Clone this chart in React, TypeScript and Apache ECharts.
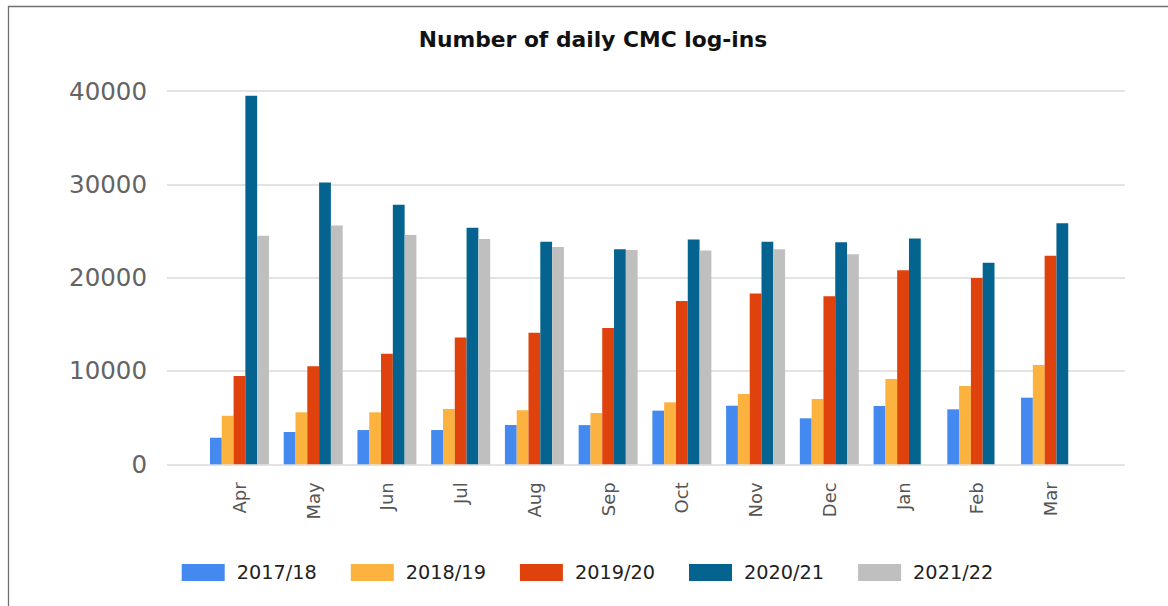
import React, { useEffect, useRef } from "react";
import * as echarts from "echarts";

const months = ["Apr", "May", "Jun", "Jul", "Aug", "Sep", "Oct", "Nov", "Dec", "Jan", "Feb", "Mar"];
const seriesNames = ["2017/18", "2018/19", "2019/20", "2020/21", "2021/22"];
const s1718 = [2850, 3460, 3670, 3670, 4200, 4200, 5750, 6280, 4930, 6250, 5890, 7140];
const s1819 = [5200, 5570, 5570, 5930, 5790, 5500, 6640, 7530, 7000, 9140, 8390, 10640];
const s1920 = [9460, 10500, 11850, 13600, 14100, 14600, 17500, 18300, 18000, 20800, 19960, 22350];
const s2021 = [39500, 30200, 27800, 25350, 23850, 23040, 24100, 23850, 23790, 24200, 21600, 25820];
const s2122 = [24500, 25600, 24570, 24140, 23280, 22960, 22900, 23040, 22500, null, null, null];
const colors = ["#4389f0", "#fbb23f", "#df420c", "#05648f", "#bfbfbf"];

const FONT = "DejaVu Sans";

export default function App() {
  const ref = useRef<HTMLDivElement>(null);
  useEffect(() => {
    if (!ref.current) return;
    const chart = echarts.init(ref.current, null, { renderer: "svg" });
    const data = [s1718, s1819, s1920, s2021, s2122];
    const option: any = {
      animation: false,
      backgroundColor: "#ffffff",
      graphic: [
        {
          type: "rect",
          silent: true,
          shape: { x: 8.5, y: 6.5, width: 1300, height: 700 },
          style: { fill: "none", stroke: "#707070", lineWidth: 1.3 },
        },
        {
          type: "text",
          x: 593,
          y: 39,
          style: {
            text: "Number of daily CMC log-ins",
            fontFamily: FONT,
            fontWeight: "bold",
            fontSize: 21.8,
            fill: "#111111",
            align: "center",
            verticalAlign: "middle",
          },
        },
      ],
      legend: {
        data: seriesNames,
        left: 181.7,
        top: 563,
        padding: 0,
        itemWidth: 43,
        itemHeight: 17,
        itemGap: 34,
        icon: "rect",
        textStyle: { fontFamily: FONT, fontSize: 19.3, color: "#222222", padding: [0, 0, 0, 7] },
      },
      grid: [
        { left: 167, right: 43, top: 91, bottom: 141.7 },
        { left: 202.6, right: 80.6, top: 91, bottom: 141.7 },
      ],
      xAxis: [
        { type: "value", gridIndex: 0, min: 0, max: 1, show: false },
        {
          type: "category",
          gridIndex: 1,
          data: months,
          axisLine: { show: false },
          axisTick: { show: false },
          axisLabel: {
            interval: 0,
            rotate: 90,
            margin: 18,
            fontFamily: FONT,
            fontSize: 18,
            color: "#555555",
          },
        },
      ],
      yAxis: [
        {
          type: "value",
          gridIndex: 0,
          min: 0,
          max: 40000,
          interval: 10000,
          axisLine: { show: false },
          axisTick: { show: false },
          axisLabel: {
            margin: 20,
            fontFamily: FONT,
            fontSize: 24.5,
            color: "#646464",
            formatter: (v: number) => String(v),
          },
          splitLine: { lineStyle: { color: "#e3e3e3", width: 2 } },
        },
        { type: "value", gridIndex: 1, min: 0, max: 40000, show: false },
      ],
      series: seriesNames.map((name, i) => ({
        name,
        type: "bar",
        xAxisIndex: 1,
        yAxisIndex: 1,
        data: data[i],
        barGap: "0%",
        barCategoryGap: "20%",
        itemStyle: { color: colors[i] },
      })),
    };
    chart.setOption(option);
    return () => chart.dispose();
  }, []);
  return (
    <div
      ref={ref}
      style={{ position: "absolute", left: 0, top: 0, width: 1168, height: 606, background: "#fff" }}
    />
  );
}
